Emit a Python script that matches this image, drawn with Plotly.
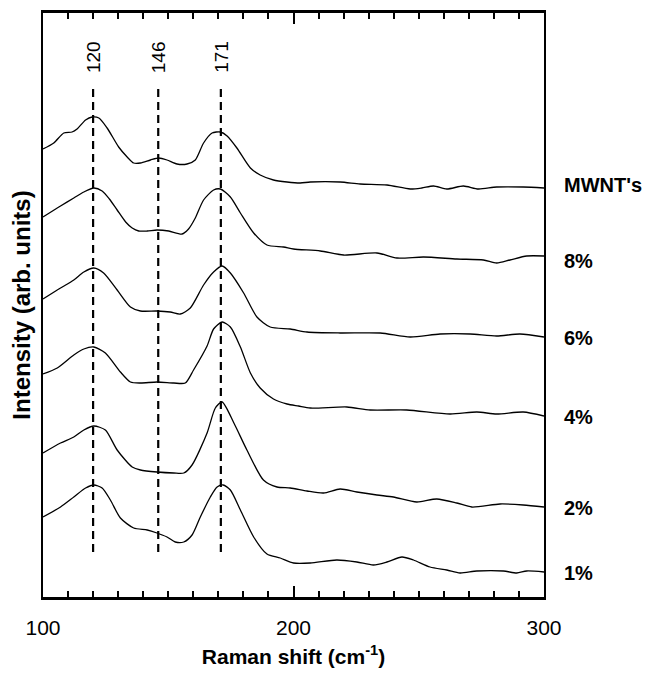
import plotly.graph_objects as go

# Raman shift (cm^-1) and stacked intensities (arb. units, offset per spectrum)
x_mwnt = [100, 104.3, 108.3, 111.6, 113.6, 117, 119.6, 122.3, 125.6, 130.2, 133.6, 136.2, 138.9, 142.9,
          146.2, 149.5, 153.5, 157.5, 160.8, 164.1, 167.5, 170.8, 173.5, 177.4, 182.8, 186.7, 192, 197.4,
          202.7, 206.7, 218.6, 226.6, 237.3, 246.6, 251.2, 255.9, 261.2, 267.8, 273.8, 281.1, 291.7, 300]
y_mwnt = [448, 454, 464, 465, 468, 477, 480, 479, 469, 450, 440, 434, 434, 437,
          439, 437, 433, 433, 437, 454, 464, 465, 461, 449, 429, 422, 417, 415,
          414, 415, 415, 413, 412, 408, 409, 411, 408, 411, 408, 410, 410, 409]

x_8 = [100, 107, 112.3, 116.3, 120.3, 123.6, 126.5, 129.6, 133, 135.6, 138.2, 141.6, 145.5, 150.2, 155.5,
       158.1, 160.8, 164.1, 168.1, 170.8, 174.8, 178.8, 184.1, 189.4, 196, 200, 210.7, 220, 233.3, 241.3,
       251.9, 265.2, 275.8, 281.1, 286.4, 293.1, 300]
y_8 = [380, 391, 399, 405, 409, 406, 398, 387, 375, 369, 366, 366, 367, 366, 363,
       368, 379, 397, 407, 408, 400, 384, 364, 352, 350, 348, 346, 342, 344, 339,
       340, 338, 337, 334, 337, 341, 341]

x_6 = [100, 107, 112.3, 116.3, 120.3, 124.2, 129.6, 134.9, 138.9, 145.5, 150.8, 154.8, 158.8, 164.1, 168.1,
       171.5, 174.8, 180.1, 185.4, 190.7, 198.7, 205.4, 218.6, 234.6, 246.6, 258.5, 270.5, 281.1, 290.4, 300]
y_6 = [298, 309, 317, 325, 329, 324, 307, 290, 286, 286, 285, 283, 289, 312, 325,
       331, 324, 304, 280, 270, 268, 265, 264, 264, 260, 263, 263, 261, 263, 260]

x_4 = [100, 105.7, 112.3, 116.3, 120.3, 124.9, 130.9, 134.9, 138.9, 145.5, 152.2, 156.8, 160.1, 165.5, 168.1,
       171.5, 174.8, 178.8, 182.8, 186.7, 192, 197.4, 202, 206.7, 221.3, 230.6, 245.2, 262.5, 273.2, 281.1,
       291.7, 300]
y_4 = [223, 229, 242, 248, 250, 244, 225, 215, 214, 215, 214, 214, 227, 251, 268,
       275, 270, 250, 224, 209, 198, 193, 191, 189, 190, 187, 187, 183, 185, 183,
       185, 181]

x_2 = [100, 107, 112.3, 116.3, 120.3, 124.9, 129.6, 135.6, 138.9, 145.5, 152.2, 156.2, 159.5, 165.5, 168.8,
       171.5, 176.2, 181.4, 188, 193.4, 198.7, 205.4, 212, 218.6, 225.3, 233.3, 239.9, 249.2, 257.2, 265.2,
       271.2, 282.5, 291.7, 300]
y_2 = [144, 154, 160, 167, 171, 167, 147, 130, 127, 125, 124, 124, 132, 164, 189,
       195, 174, 147, 117, 110, 109, 106, 104, 108, 105, 102, 100, 95, 98, 94,
       90, 93, 92, 90]

x_1 = [100, 107, 112.3, 117, 120.3, 123.6, 126.9, 130.9, 136.2, 141.6, 145.5, 149.5, 152.8, 156.2, 159.5,
       162.8, 166.8, 169.5, 171.9, 174.8, 178.8, 184.1, 189.4, 194.7, 200, 206.7, 217.3, 225.3, 231.9, 237.3,
       243.3, 247.9, 254.5, 261.2, 266.5, 273.2, 283.8, 289.1, 293.1, 300]
y_1 = [80, 90, 100, 109, 112, 109, 97, 79, 69, 67, 64, 60, 55, 55, 62,
       80, 100, 110, 112, 107, 87, 60, 43, 39, 34, 34, 37, 35, 32, 35,
       40, 37, 30, 27, 24, 26, 26, 24, 26, 25]

series_x = [x_mwnt, x_8, x_6, x_4, x_2, x_1]
series_y = [y_mwnt, y_8, y_6, y_4, y_2, y_1]
series_labels = ["MWNT's", "8%", "6%", "4%", "2%", "1%"]
label_levels = [412, 336, 259, 180, 89, 24]

peak_positions = [120, 146, 171]
peak_labels = ["120", "146", "171"]
dash_range = [45, 509]
peak_label_level = 540

x_major = [100, 200, 300]
x_minor = [v for v in range(110, 300, 10) if v != 200]

FONT = "Liberation Sans, Arial, sans-serif"

fig = go.Figure()
for xs, ys in zip(series_x, series_y):
    fig.add_trace(go.Scatter(x=xs, y=ys, mode="lines",
                             line=dict(color="black", width=1.3, shape="spline", smoothing=0.7),
                             showlegend=False, hoverinfo="skip"))

for p in peak_positions:
    fig.add_trace(go.Scatter(x=[p, p], y=dash_range, mode="lines",
                             line=dict(color="black", width=2.2, dash="8px,5px"),
                             showlegend=False, hoverinfo="skip"))

# invisible trace to activate the top tick axis
fig.add_trace(go.Scatter(x=[100, 300], y=[None, None], xaxis="x2", mode="lines",
                         showlegend=False, hoverinfo="skip"))

annotations = []
for p, t in zip(peak_positions, peak_labels):
    annotations.append(dict(x=p, y=peak_label_level, xref="x", yref="y", text=t, showarrow=False,
                            textangle=-90, font=dict(family=FONT, size=19, color="black")))
for lab, lev in zip(series_labels, label_levels):
    annotations.append(dict(x=1.036, y=lev, xref="paper", yref="y", text="<b>" + lab + "</b>",
                            showarrow=False, xanchor="left", font=dict(family=FONT, size=20, color="black")))

tick_common = dict(range=[100, 300], tickvals=x_major, ticks="inside", ticklen=11, tickwidth=2,
                   tickcolor="black", showgrid=False, zeroline=False, automargin=False,
                   minor=dict(tickvals=x_minor, ticks="inside", ticklen=6, tickwidth=1.5,
                              tickcolor="black", showgrid=False))

fig.update_layout(
    width=642, height=668,
    margin=dict(l=35, r=106, t=5, b=79, autoexpand=False),
    paper_bgcolor="white", plot_bgcolor="white",
    font=dict(family=FONT, color="black"),
    annotations=annotations,
    xaxis=dict(**tick_common, showline=True, linewidth=2.5, linecolor="black", mirror=True,
               tickfont=dict(size=21, family=FONT), ticklabelstandoff=10,
               title=dict(text="<b>Raman shift (cm<sup>-1</sup>)</b>", font=dict(size=21, family=FONT),
                          standoff=12)),
    xaxis2=dict(**tick_common, overlaying="x", side="top", showticklabels=False, showline=False),
    yaxis=dict(range=[0, 584], showticklabels=False, ticks="", showline=True, linewidth=2, linecolor="black",
               mirror=True, showgrid=False, zeroline=False, automargin=False,
               title=dict(text="<b>Intensity (arb. units)</b>", font=dict(size=24, family=FONT), standoff=6)),
)

fig.write_html("out.html")
